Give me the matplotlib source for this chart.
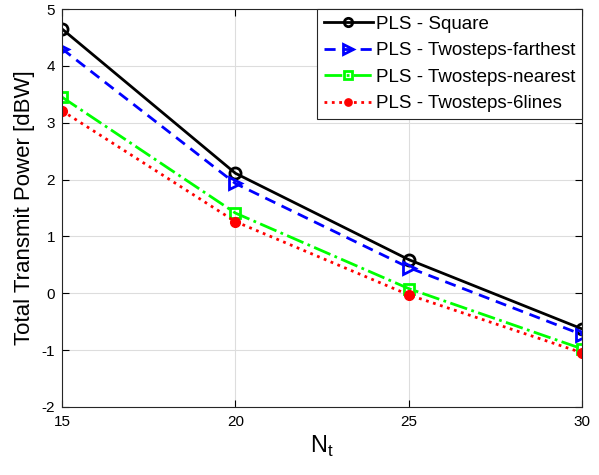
import matplotlib
matplotlib.use('Agg')
import matplotlib.pyplot as plt

plt.rcParams['font.family'] = ['Liberation Sans', 'DejaVu Sans']
plt.rcParams['axes.unicode_minus'] = False

nt = [15, 20, 25, 30]
square = [4.65, 2.11, 0.59, -0.63]
farthest = [4.30, 1.93, 0.45, -0.73]
nearest = [3.45, 1.41, 0.08, -0.98]
six_lines = [3.21, 1.26, -0.03, -1.05]

fig = plt.figure(figsize=(5.99, 4.75), dpi=100)
ax = fig.add_axes([0.1035, 0.1435, 0.8685, 0.8375])

ax.plot(nt, square, color='k', linestyle='-', lw=2, marker='o', ms=8,
        mfc='none', mew=2, label='PLS - Square')
ax.plot(nt, farthest, color='b', linestyle=(0, (4, 2.5)), lw=2, marker='>', ms=9,
        mfc='none', mew=2, label='PLS - Twosteps-farthest')
ax.plot(nt, nearest, color=(0, 1, 0), linestyle='-.', lw=2, marker='s', ms=7,
        mfc='none', mew=2, label='PLS - Twosteps-nearest')
ax.plot(nt, six_lines, color='r', linestyle=':', lw=2, marker='o', ms=7,
        mfc='r', mec='r', label='PLS - Twosteps-6lines')

ax.set_xlim(15, 30)
ax.set_ylim(-2, 5)
ax.set_xticks([15, 20, 25, 30])
ax.set_yticks(range(-2, 6))
ax.grid(True, color='#dddddd', lw=0.8)
ax.tick_params(direction='in', top=True, right=True, labelsize=11, length=5)
ax.tick_params(axis='x', pad=6)
ax.tick_params(axis='y', pad=5)
for s in ax.spines.values():
    s.set_color('#262626')
    s.set_linewidth(0.8)

ax.set_xlabel('N$_\\mathregular{t}$', fontsize=17, labelpad=3)
ax.set_ylabel('Total Transmit Power [dBW]', fontsize=16, labelpad=5)

leg = ax.legend(loc='upper right', fontsize=13.5, fancybox=False, framealpha=1,
                edgecolor='#262626', borderaxespad=0, handlelength=2.6,
                handletextpad=0.2, borderpad=0.35, labelspacing=0.5,
                markerscale=0.75)
leg.get_frame().set_linewidth(0.8)

fig.savefig('out.png', dpi=100)
